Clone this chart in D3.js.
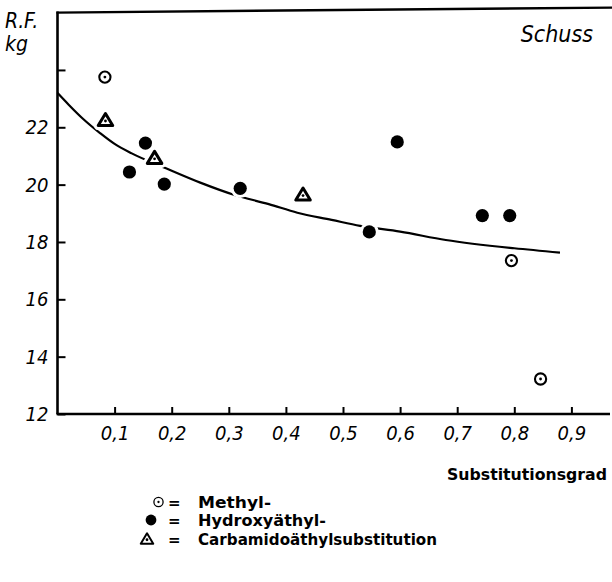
<!DOCTYPE html>
<html>
<head>
<meta charset="utf-8">
<script src="https://cdn.jsdelivr.net/npm/d3@7"></script>
<style>
  html, body { margin: 0; padding: 0; background: #fff; }
  svg { display: block; }
  .tick text { font-family: "DejaVu Sans Condensed", "DejaVu Sans", sans-serif; font-style: oblique; font-size: 20px; fill: #000; }
  .lbl { font-family: "DejaVu Sans Condensed", "DejaVu Sans", sans-serif; font-style: oblique; fill: #000; }
  .leg { font-family: "DejaVu Sans", sans-serif; font-weight: bold; font-size: 15px; fill: #000; }
</style>
</head>
<body>
<svg id="chart" width="612" height="582"></svg>
<script>
// Reißfestigkeit (Schuss) in Abhängigkeit vom Substitutionsgrad
const methylX = [0.083, 0.795, 0.846];
const methylY = [23.75, 17.35, 13.22];

const hydroxyX = [0.126, 0.154, 0.187, 0.320, 0.546, 0.595, 0.744, 0.792];
const hydroxyY = [20.44, 21.45, 20.02, 19.87, 18.35, 21.49, 18.92, 18.92];

const carbX = [0.084, 0.170, 0.430];
const carbY = [22.27, 20.95, 19.67];

// Ausgleichskurve
const curveX = [0, 0.02, 0.045, 0.075, 0.10, 0.13, 0.19, 0.25, 0.31, 0.37, 0.42, 0.48, 0.53, 0.60, 0.68, 0.80, 0.88];
const curveY = [23.20, 22.78, 22.29, 21.79, 21.42, 21.09, 20.57, 20.07, 19.64, 19.32, 19.02, 18.77, 18.56, 18.36, 18.07, 17.78, 17.63];

const xTicks = [0.1, 0.2, 0.3, 0.4, 0.5, 0.6, 0.7, 0.8, 0.9];
const yTicks = [12, 14, 16, 18, 20, 22, 24];
const yTickLabels = ["12", "14", "16", "18", "20", "22", ""];

const legendItems = ["Methyl-", "Hydroxyäthyl-", "Carbamidoäthylsubstitution"];

const svg = d3.select("#chart");

const x = d3.scaleLinear().domain([0, 0.9676]).range([57.5, 610]);
const y = d3.scaleLinear().domain([12, 26]).range([414, 12.6]);

// Rahmen: linke Achse, obere Linie
svg.append("line")
  .attr("x1", x(0)).attr("x2", x(0))
  .attr("y1", y(26) - 1).attr("y2", y(12))
  .attr("stroke", "#000").attr("stroke-width", 2.6);
svg.append("line")
  .attr("x1", x(0) - 1).attr("x2", 612)
  .attr("y1", y(26)).attr("y2", y(26) - 5)
  .attr("stroke", "#000").attr("stroke-width", 2.4);

// y-Achse
const yAxis = svg.append("g")
  .attr("transform", `translate(${x(0)},0)`)
  .call(d3.axisLeft(y).tickValues(yTicks)
    .tickFormat((d, i) => yTickLabels[i])
    .tickSize(-8).tickPadding(9));
yAxis.select(".domain").remove();
yAxis.selectAll(".tick line").attr("stroke-width", 2);

// x-Achse
const xAxis = svg.append("g")
  .attr("transform", `translate(0,${y(12)})`)
  .call(d3.axisBottom(x).tickValues(xTicks)
    .tickFormat(d => d3.format(".1f")(d).replace(".", ","))
    .tickSize(-7).tickPadding(12));
xAxis.select(".domain").remove();
xAxis.selectAll(".tick line").attr("stroke-width", 2);
svg.append("line")
  .attr("x1", x(0) - 1).attr("x2", x(0.9676))
  .attr("y1", y(12)).attr("y2", y(12))
  .attr("stroke", "#000").attr("stroke-width", 2.4);

// Kurve
const curvePts = curveX.map((v, i) => [v, curveY[i]]);
svg.append("path")
  .datum(curvePts)
  .attr("fill", "none")
  .attr("stroke", "#000")
  .attr("stroke-width", 2.2)
  .attr("d", d3.line().x(d => x(d[0])).y(d => y(d[1])).curve(d3.curveMonotoneX));

// Messpunkte
function triPath(cx, cy, w, h) {
  return `M${cx},${cy - h / 2}L${cx - w / 2},${cy + h / 2}L${cx + w / 2},${cy + h / 2}Z`;
}

function drawMethyl(g, cx, cy, r, sw, halo) {
  if (halo) g.append("circle").attr("cx", cx).attr("cy", cy).attr("r", r + 3).attr("fill", "#fff");
  g.append("circle").attr("cx", cx).attr("cy", cy).attr("r", r)
    .attr("fill", "#fff").attr("stroke", "#000").attr("stroke-width", sw);
  g.append("circle").attr("cx", cx).attr("cy", cy).attr("r", Math.max(1.1, r * 0.25)).attr("fill", "#000");
}
function drawHydroxy(g, cx, cy, r, halo) {
  if (halo) g.append("circle").attr("cx", cx).attr("cy", cy).attr("r", r + 3).attr("fill", "#fff");
  g.append("circle").attr("cx", cx).attr("cy", cy).attr("r", r).attr("fill", "#000");
}
function drawCarb(g, cx, cy, w, h, sw, halo) {
  if (halo) g.append("path").attr("d", triPath(cx, cy, w, h))
    .attr("fill", "#fff").attr("stroke", "#fff").attr("stroke-width", sw + 6).attr("stroke-linejoin", "round");
  g.append("path").attr("d", triPath(cx, cy, w, h))
    .attr("fill", "#fff").attr("stroke", "#000").attr("stroke-width", sw).attr("stroke-linejoin", "round");
  g.append("circle").attr("cx", cx).attr("cy", cy + h * 0.12).attr("r", 1.4).attr("fill", "#000");
}

const pts = svg.append("g");
methylX.forEach((v, i) => drawMethyl(pts, x(v), y(methylY[i]), 5.6, 2.1, true));
hydroxyX.forEach((v, i) => drawHydroxy(pts, x(v), y(hydroxyY[i]), 6.6, true));
carbX.forEach((v, i) => drawCarb(pts, x(v), y(carbY[i]), 14.5, 12, 3, true));

// Beschriftungen
svg.append("text").attr("class", "lbl").attr("x", 5).attr("y", 28)
  .style("font-size", "21px").text("R.F.");
svg.append("text").attr("class", "lbl").attr("x", 5).attr("y", 51)
  .style("font-size", "21px").text("kg");
svg.append("text").attr("class", "lbl").attr("x", 593).attr("y", 42)
  .attr("text-anchor", "end").style("font-size", "23px").text("Schuss");
svg.append("text").attr("class", "leg").attr("x", 447).attr("y", 480)
  .attr("textLength", 160).attr("lengthAdjust", "spacingAndGlyphs")
  .text("Substitutionsgrad");

// Legende
const legY = [502, 520, 539];
const leg = svg.append("g");
drawMethyl(leg, 158.5, legY[0], 4.6, 1.3, false);
drawHydroxy(leg, 151, legY[1], 5.4, false);
drawCarb(leg, 147, legY[2] - 0.5, 12.5, 10.5, 2, false);
legendItems.forEach((t, i) => {
  leg.append("text").attr("class", "leg").attr("x", 168).attr("y", legY[i] + 6).text("=");
  leg.append("text").attr("class", "leg").attr("x", 198).attr("y", legY[i] + 6)
    .attr("textLength", [73, 128, 239][i]).attr("lengthAdjust", "spacingAndGlyphs")
    .text(t);
});
</script>
</body>
</html>
